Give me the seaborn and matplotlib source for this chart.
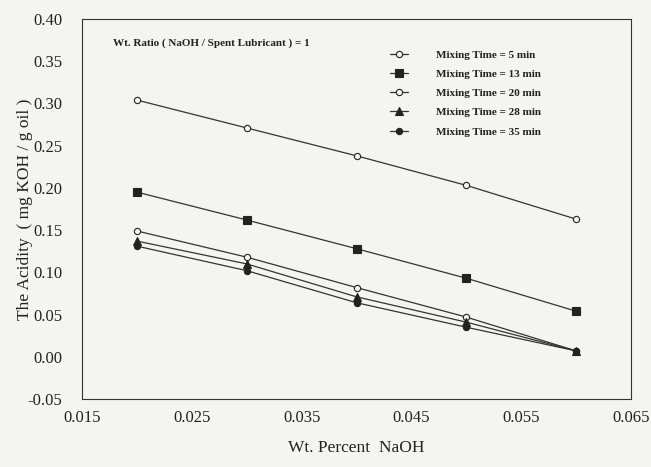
import matplotlib
matplotlib.use("Agg")
import matplotlib.pyplot as plt
import seaborn as sns
import pandas as pd

naoh = [0.02, 0.03, 0.04, 0.05, 0.06]
series_names = ["Mixing Time = 5 min", "Mixing Time = 13 min", "Mixing Time = 20 min",
                "Mixing Time = 28 min", "Mixing Time = 35 min"]
t5 = [0.304, 0.271, 0.238, 0.203, 0.163]
t13 = [0.195, 0.162, 0.128, 0.093, 0.054]
t20 = [0.149, 0.118, 0.082, 0.047, 0.007]
t28 = [0.137, 0.110, 0.071, 0.041, 0.007]
t35 = [0.131, 0.102, 0.064, 0.035, 0.007]
values = [t5, t13, t20, t28, t35]

sns.set_theme(style="white")
plt.rcParams['font.family'] = ['Liberation Serif', 'DejaVu Serif']

rows = []
for name, vals in zip(series_names, values):
    for x, y in zip(naoh, vals):
        rows.append({"naoh": x, "acidity": y, "series": name})
df = pd.DataFrame(rows)

bg = '#f4f4f2'
fig = plt.figure(figsize=(6.51, 4.67), dpi=100, facecolor=bg)
ax = fig.add_axes([82/651, 1 - 399/467, (631-82)/651, (399-19)/467])
ax.set_facecolor(bg)

markers = ['o', 's', 'o', '^', 'o']
faces = [bg, '#222222', bg, '#222222', '#222222']
sizes = [4.5, 5.5, 4.5, 5.5, 4.5]
for name, m, fc, ms in zip(series_names, markers, faces, sizes):
    sub = df[df["series"] == name]
    sns.lineplot(data=sub, x="naoh", y="acidity", ax=ax, color='#333333', lw=0.9,
                 marker=m, markersize=ms, markerfacecolor=fc, markeredgecolor='#222222',
                 markeredgewidth=0.8, label=name)

ax.set_xlim(0.015, 0.065)
ax.set_ylim(-0.05, 0.40)
ax.set_xticks([0.015, 0.025, 0.035, 0.045, 0.055, 0.065])
ax.set_xticks([0.02, 0.03, 0.04, 0.05, 0.06], minor=True)
ax.set_xticklabels(["0.015", "0.025", "0.035", "0.045", "0.055", "0.065"])
yt = [-0.05, 0.00, 0.05, 0.10, 0.15, 0.20, 0.25, 0.30, 0.35, 0.40]
ax.set_yticks(yt)
ax.set_yticklabels([f"{v:.2f}" for v in yt])
ax.tick_params(axis='both', labelsize=12, colors='#222222', length=4, width=0.8)
ax.tick_params(axis='x', direction='in', which='both', pad=8)
ax.tick_params(axis='x', which='minor', length=3)
ax.tick_params(axis='y', direction='out', pad=10)
for s in ax.spines.values():
    s.set_color('#333333')
    s.set_linewidth(0.8)

ax.set_xlabel("Wt. Percent  NaOH", fontsize=12.5, color='#222222', labelpad=10)
ax.set_ylabel("The Acidity  ( mg KOH / g oil )", fontsize=12.5, color='#222222')
ax.yaxis.set_label_coords(-0.089, 0.5)

ax.text(0.056, 0.93, "Wt. Ratio ( NaOH / Spent Lubricant ) = 1", transform=ax.transAxes,
        fontsize=8, color='#222222', fontweight='bold')

leg = ax.legend(loc='upper right', bbox_to_anchor=(0.855, 0.945), frameon=False,
                prop={'size': 8, 'weight': 'bold'},
                handlelength=1.6, labelspacing=0.85, handletextpad=2.6)
for t in leg.get_texts():
    t.set_color('#222222')

fig.savefig("out.png", dpi=100, facecolor=bg)
